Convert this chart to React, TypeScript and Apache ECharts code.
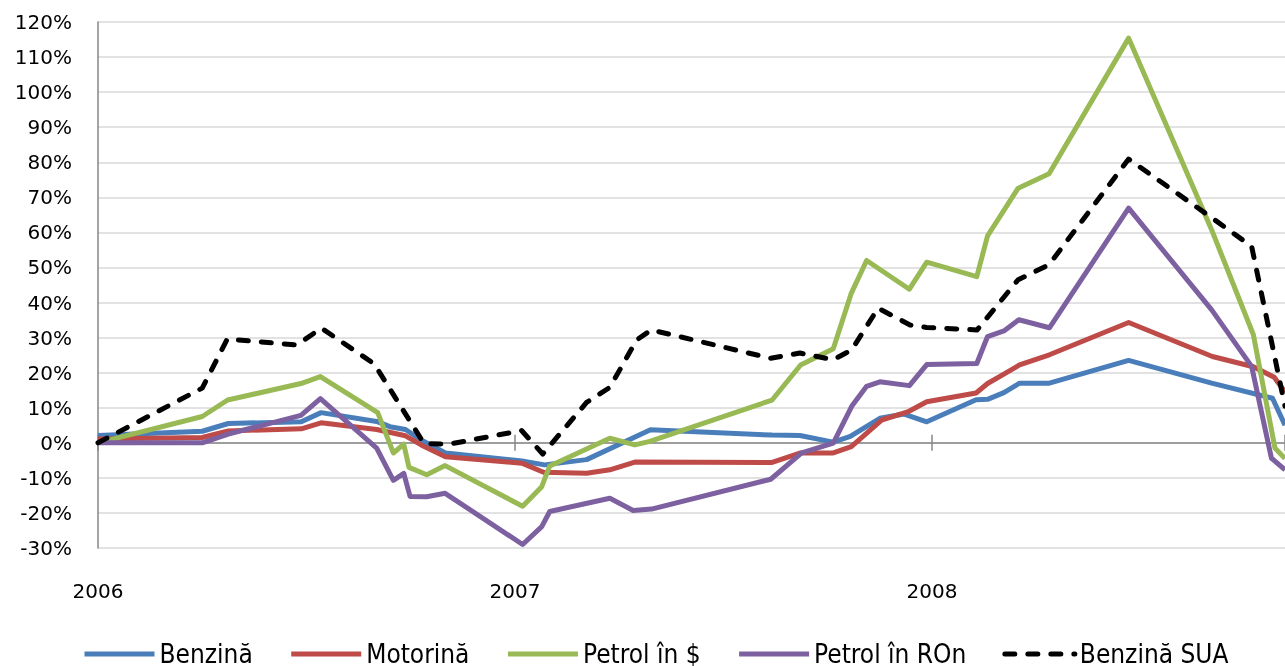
import React, { useEffect, useRef } from 'react';
import * as echarts from 'echarts';

// x = months since 1 Jan 2006, y = percent change
const yearTicks = [0, 12, 24];
const yearLabels = ['2006', '2007', '2008'];

const benzina: [number, number][] = [
  [0, 2.1], [3.0, 3.3], [3.75, 5.5], [5.85, 6.0], [6.42, 8.6], [8.02, 6.1], [8.4, 4.6], [8.85, 3.8],
  [9.3, 0.8], [10.0, -2.9], [12.2, -5.2], [12.85, -6.3], [14.06, -4.8], [15.9, 3.7], [19.4, 2.2],
  [20.2, 2.1], [21.16, 0.2], [21.65, 1.8], [22.5, 7.0], [23.2, 8.2], [23.85, 6.0], [25.27, 12.3],
  [25.6, 12.4], [26.07, 14.3], [26.52, 17.0], [27.38, 17.0], [29.66, 23.5], [32.05, 17.0],
  [33.8, 12.7], [34.16, 5.0],
];

const motorina: [number, number][] = [
  [0, 1.1], [3.0, 1.5], [3.75, 3.4], [5.85, 4.0], [6.42, 5.7], [8.02, 3.8], [8.85, 2.0], [9.3, -0.6],
  [10.0, -4.0], [12.2, -5.8], [12.82, -8.4], [14.06, -8.7], [14.73, -7.7], [15.45, -5.5], [19.4, -5.6],
  [20.22, -2.9], [21.16, -2.9], [21.68, -1.1], [22.55, 6.5], [23.3, 8.8], [23.85, 11.7], [25.27, 14.2],
  [25.6, 16.9], [26.07, 19.6], [26.52, 22.2], [27.38, 25.1], [29.66, 34.3], [32.07, 24.6],
  [33.25, 21.7], [33.85, 18.7], [34.16, 14.5],
];

const petrolUsd: [number, number][] = [
  [0, 0], [3.0, 7.5], [3.73, 12.2], [5.84, 16.9], [6.4, 18.9], [8.05, 8.6], [8.5, -2.9], [8.8, -0.4],
  [8.95, -7.0], [9.46, -9.1], [9.99, -6.5], [12.22, -18.1], [12.77, -12.5], [13.0, -6.6], [14.73, 1.3],
  [15.45, -0.6], [15.88, 0.4], [19.4, 12.2], [20.22, 22.2], [21.16, 26.8], [21.68, 42.7], [22.12, 52.0],
  [23.35, 43.8], [23.85, 51.5], [25.29, 47.4], [25.6, 59.0], [26.48, 72.6], [27.37, 76.7],
  [29.66, 115.4], [32.05, 60.7], [33.25, 30.8], [33.87, -1.5], [34.16, -4.5],
];

const petrolRon: [number, number][] = [
  [0, 0], [3.0, 0], [3.75, 2.5], [5.84, 7.8], [6.4, 12.6], [8.02, -1.5], [8.5, -10.7], [8.8, -8.7],
  [8.98, -15.3], [9.46, -15.4], [9.99, -14.4], [12.22, -29.0], [12.77, -23.9], [13.0, -19.6],
  [14.73, -15.8], [15.4, -19.3], [15.93, -18.9], [19.36, -10.4], [20.25, -2.9], [21.16, -0.1],
  [21.69, 10.4], [22.12, 16.1], [22.5, 17.4], [23.35, 16.3], [23.85, 22.3], [25.29, 22.6], [25.6, 30.3],
  [26.07, 31.9], [26.5, 35.1], [27.38, 32.8], [29.66, 66.9], [32.05, 37.9], [33.2, 21.8],
  [33.77, -4.4], [34.16, -7.7],
];

const benzinaSua: [number, number][] = [
  [0, 0], [3.0, 15.6], [3.72, 29.6], [5.72, 27.9], [6.43, 32.7], [7.95, 22.5], [9.38, -0.2],
  [10.1, -0.4], [12.19, 3.5], [12.8, -3.2], [14.06, 11.5], [14.73, 15.8], [15.5, 29.3], [15.92, 32.2],
  [19.36, 24.1], [20.2, 25.6], [21.16, 23.7], [21.69, 26.5], [22.45, 38.4], [23.37, 33.6],
  [23.85, 32.9], [25.3, 32.2], [26.48, 46.5], [27.37, 50.8], [29.66, 80.9], [32.05, 64.2],
  [33.2, 56.0], [34.16, 10.4],
];

const FONT = 'DejaVu Sans, Verdana, sans-serif';
const LEGEND_FONT = '"DejaVu Sans Condensed", "Liberation Sans Narrow", "DejaVu Sans", sans-serif';
const AXIS_GRAY = '#868686';

export default function App() {
  const ref = useRef<HTMLDivElement>(null);
  useEffect(() => {
    const chart = echarts.init(ref.current as HTMLDivElement, null, { renderer: 'svg' });
    const mk = (name: string, data: [number, number][], color: string, dashed = false) => ({
      name,
      type: 'line',
      data,
      xAxisIndex: 0,
      symbol: 'none',
      showSymbol: false,
      clip: true,
      lineStyle: {
        color,
        width: 5,
        type: dashed ? [10, 13] : 'solid',
        cap: dashed ? 'round' : 'butt',
        join: 'round',
      },
      itemStyle: { color },
      emphasis: { disabled: true },
    });
    const xFmt = (v: number) => {
      const i = yearTicks.indexOf(v);
      return i >= 0 ? yearLabels[i] : '';
    };
    const baseX = { type: 'value', min: 0, max: 34.16, interval: 12, splitLine: { show: false } };
    chart.setOption({
      animation: false,
      grid: { left: 98, right: 0, top: 22, bottom: 118, outerBoundsMode: 'none', containLabel: false },
      legend: {
        left: 77,
        top: 636,
        itemWidth: 70,
        itemHeight: 14,
        itemGap: 36,
        lineStyle: { width: 5 },
        itemStyle: { opacity: 0 },
        textStyle: { fontFamily: LEGEND_FONT, fontSize: 26, color: '#000' },
        data: ['Benzină', 'Motorină', 'Petrol în $', 'Petrol în ROn', 'Benzină SUA'],
      },
      xAxis: [
        {
          ...baseX,
          position: 'bottom',
          axisLine: { show: false, onZero: false },
          axisTick: { show: false },
          axisLabel: { margin: 33, formatter: xFmt, fontFamily: FONT, fontSize: 20, color: '#000' },
        },
        {
          ...baseX,
          position: 'bottom',
          axisLine: { show: true, onZero: true, onZeroAxisIndex: 0, lineStyle: { color: AXIS_GRAY, width: 1.5 } },
          axisTick: { show: true, length: 8, lineStyle: { color: AXIS_GRAY, width: 1.5 } },
          axisLabel: { show: false },
        },
        {
          ...baseX,
          position: 'top',
          axisLine: { show: false, onZero: true, onZeroAxisIndex: 0 },
          axisTick: { show: true, length: 8, lineStyle: { color: AXIS_GRAY, width: 1.5 } },
          axisLabel: { show: false },
        },
      ],
      yAxis: {
        type: 'value',
        min: -30,
        max: 120,
        interval: 10,
        axisLine: { show: true, onZero: false, lineStyle: { color: AXIS_GRAY, width: 1.5 } },
        axisTick: { show: false },
        axisLabel: { formatter: '{value}%', margin: 26, fontFamily: FONT, fontSize: 20, color: '#000' },
        splitLine: { lineStyle: { color: '#D9D9D9', width: 1.5 } },
      },
      series: [
        mk('Benzină', benzina, '#4A7EBB'),
        mk('Motorină', motorina, '#BE4B48'),
        mk('Petrol în $', petrolUsd, '#98B954'),
        mk('Petrol în ROn', petrolRon, '#7D60A0'),
        mk('Benzină SUA', benzinaSua, '#000000', true),
      ],
    });
    return () => chart.dispose();
  }, []);
  return <div ref={ref} style={{ position: 'fixed', left: 0, top: 0, width: 1285, height: 666 }} />;
}
